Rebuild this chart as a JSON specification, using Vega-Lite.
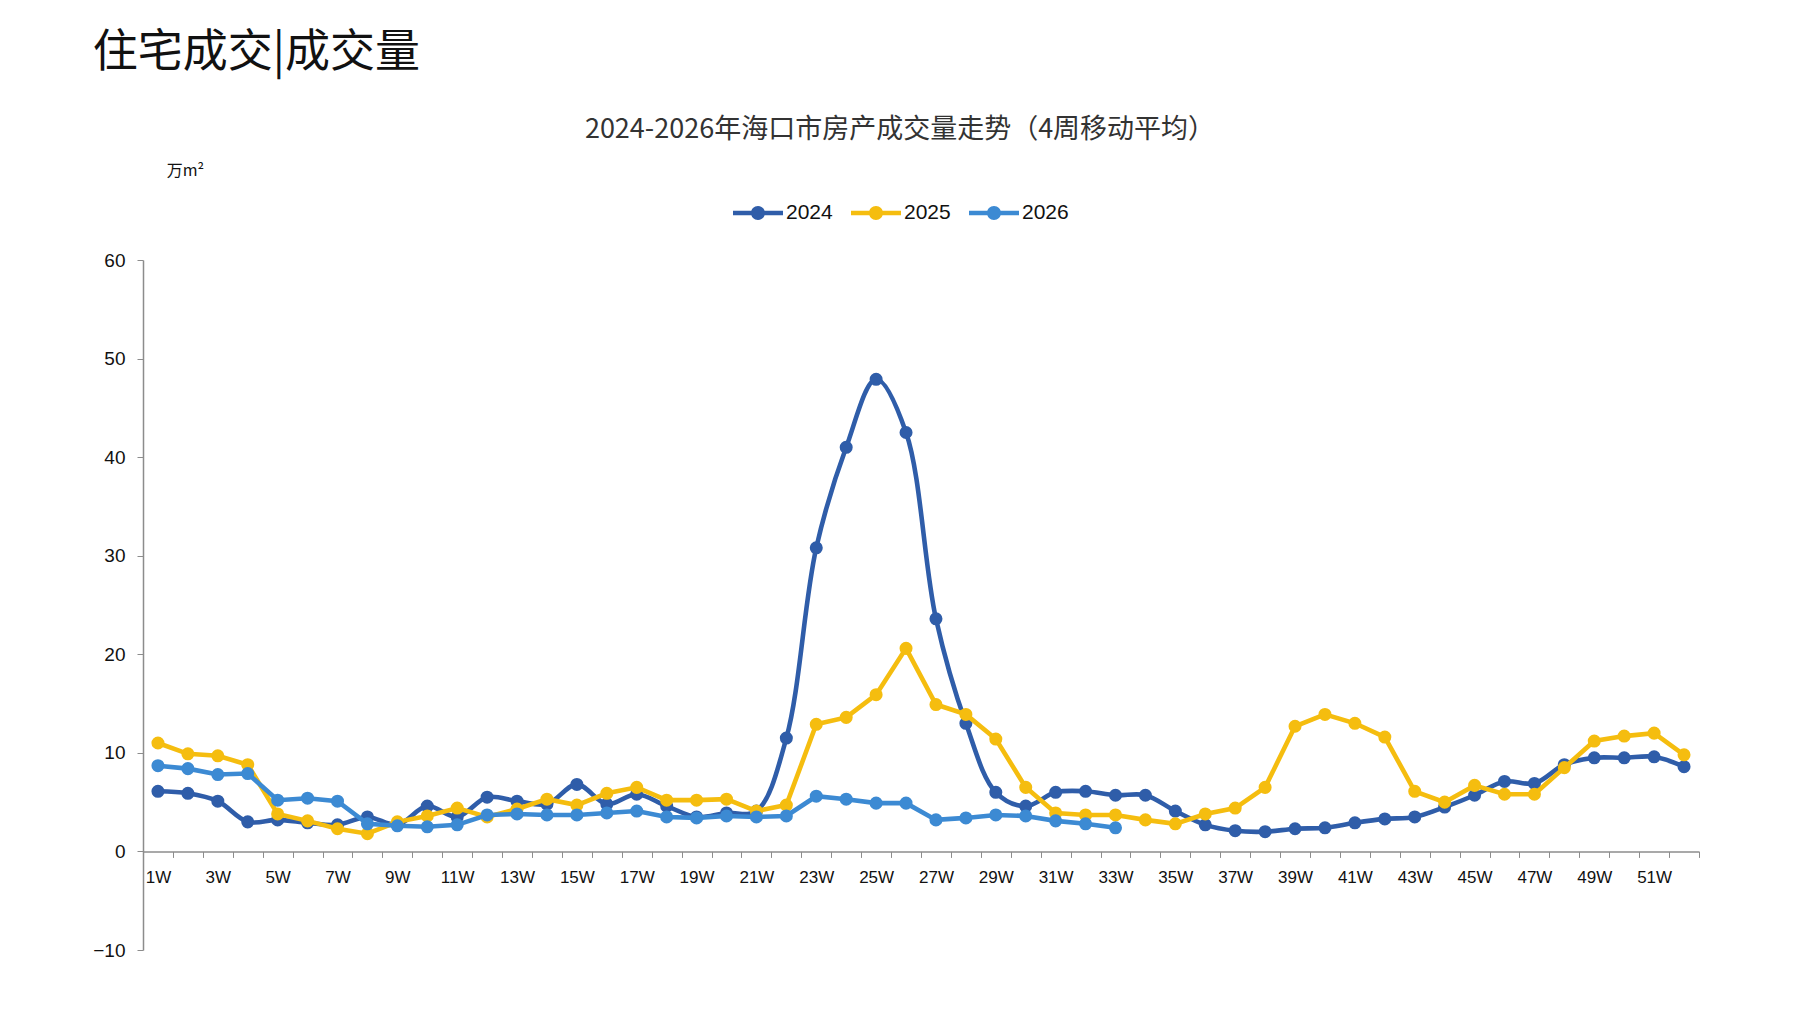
{
  "$schema": "https://vega.github.io/schema/vega-lite/v6.json",
  "background": "white",
  "padding": {"left": 92, "top": 31, "right": 10, "bottom": 10},
  "title": {
    "text": "住宅成交|成交量",
    "anchor": "start",
    "frame": "bounds",
    "font": "Noto Sans CJK SC",
    "fontSize": 45,
    "fontWeight": "normal",
    "color": "#111111",
    "offset": 40
  },
  "config": {
    "view": {"stroke": null},
    "concat": {"spacing": 0}
  },
  "vconcat": [
    {
      "width": 1556,
      "height": 690,
      "title": {
        "text": "2024-2026年海口市房产成交量走势（4周移动平均）",
        "anchor": "middle",
        "frame": "group",
        "font": "Noto Sans CJK SC",
        "fontSize": 27,
        "fontWeight": "normal",
        "color": "#333333",
        "dx": -21,
        "offset": 18
      },
      "data": {
        "values": [
          {"week": "1W", "year": "2024", "v": 6.1},
          {"week": "2W", "year": "2024", "v": 5.9},
          {"week": "3W", "year": "2024", "v": 5.1},
          {"week": "4W", "year": "2024", "v": 3.0},
          {"week": "5W", "year": "2024", "v": 3.2},
          {"week": "6W", "year": "2024", "v": 2.9},
          {"week": "7W", "year": "2024", "v": 2.7},
          {"week": "8W", "year": "2024", "v": 3.5},
          {"week": "9W", "year": "2024", "v": 2.7},
          {"week": "10W", "year": "2024", "v": 4.6},
          {"week": "11W", "year": "2024", "v": 3.5},
          {"week": "12W", "year": "2024", "v": 5.5},
          {"week": "13W", "year": "2024", "v": 5.1},
          {"week": "14W", "year": "2024", "v": 4.8},
          {"week": "15W", "year": "2024", "v": 6.8},
          {"week": "16W", "year": "2024", "v": 4.8},
          {"week": "17W", "year": "2024", "v": 5.8},
          {"week": "18W", "year": "2024", "v": 4.6},
          {"week": "19W", "year": "2024", "v": 3.5},
          {"week": "20W", "year": "2024", "v": 3.9},
          {"week": "21W", "year": "2024", "v": 4.1},
          {"week": "22W", "year": "2024", "v": 11.5},
          {"week": "23W", "year": "2024", "v": 30.8},
          {"week": "24W", "year": "2024", "v": 41.0},
          {"week": "25W", "year": "2024", "v": 47.9},
          {"week": "26W", "year": "2024", "v": 42.5},
          {"week": "27W", "year": "2024", "v": 23.6},
          {"week": "28W", "year": "2024", "v": 13.0},
          {"week": "29W", "year": "2024", "v": 6.0},
          {"week": "30W", "year": "2024", "v": 4.6},
          {"week": "31W", "year": "2024", "v": 6.0},
          {"week": "32W", "year": "2024", "v": 6.1},
          {"week": "33W", "year": "2024", "v": 5.7},
          {"week": "34W", "year": "2024", "v": 5.7},
          {"week": "35W", "year": "2024", "v": 4.1},
          {"week": "36W", "year": "2024", "v": 2.7},
          {"week": "37W", "year": "2024", "v": 2.1},
          {"week": "38W", "year": "2024", "v": 2.0},
          {"week": "39W", "year": "2024", "v": 2.3},
          {"week": "40W", "year": "2024", "v": 2.4},
          {"week": "41W", "year": "2024", "v": 2.9},
          {"week": "42W", "year": "2024", "v": 3.3},
          {"week": "43W", "year": "2024", "v": 3.5},
          {"week": "44W", "year": "2024", "v": 4.5},
          {"week": "45W", "year": "2024", "v": 5.7},
          {"week": "46W", "year": "2024", "v": 7.1},
          {"week": "47W", "year": "2024", "v": 6.9},
          {"week": "48W", "year": "2024", "v": 8.8},
          {"week": "49W", "year": "2024", "v": 9.5},
          {"week": "50W", "year": "2024", "v": 9.5},
          {"week": "51W", "year": "2024", "v": 9.6},
          {"week": "52W", "year": "2024", "v": 8.6},
          {"week": "1W", "year": "2025", "v": 11.0},
          {"week": "2W", "year": "2025", "v": 9.9},
          {"week": "3W", "year": "2025", "v": 9.7},
          {"week": "4W", "year": "2025", "v": 8.8},
          {"week": "5W", "year": "2025", "v": 3.8},
          {"week": "6W", "year": "2025", "v": 3.1},
          {"week": "7W", "year": "2025", "v": 2.3},
          {"week": "8W", "year": "2025", "v": 1.8},
          {"week": "9W", "year": "2025", "v": 3.0},
          {"week": "10W", "year": "2025", "v": 3.6},
          {"week": "11W", "year": "2025", "v": 4.4},
          {"week": "12W", "year": "2025", "v": 3.5},
          {"week": "13W", "year": "2025", "v": 4.3},
          {"week": "14W", "year": "2025", "v": 5.3},
          {"week": "15W", "year": "2025", "v": 4.7},
          {"week": "16W", "year": "2025", "v": 5.9},
          {"week": "17W", "year": "2025", "v": 6.5},
          {"week": "18W", "year": "2025", "v": 5.2},
          {"week": "19W", "year": "2025", "v": 5.2},
          {"week": "20W", "year": "2025", "v": 5.3},
          {"week": "21W", "year": "2025", "v": 4.1},
          {"week": "22W", "year": "2025", "v": 4.7},
          {"week": "23W", "year": "2025", "v": 12.9},
          {"week": "24W", "year": "2025", "v": 13.6},
          {"week": "25W", "year": "2025", "v": 15.9},
          {"week": "26W", "year": "2025", "v": 20.6},
          {"week": "27W", "year": "2025", "v": 14.9},
          {"week": "28W", "year": "2025", "v": 13.9},
          {"week": "29W", "year": "2025", "v": 11.4},
          {"week": "30W", "year": "2025", "v": 6.5},
          {"week": "31W", "year": "2025", "v": 3.9},
          {"week": "32W", "year": "2025", "v": 3.7},
          {"week": "33W", "year": "2025", "v": 3.7},
          {"week": "34W", "year": "2025", "v": 3.2},
          {"week": "35W", "year": "2025", "v": 2.8},
          {"week": "36W", "year": "2025", "v": 3.8},
          {"week": "37W", "year": "2025", "v": 4.4},
          {"week": "38W", "year": "2025", "v": 6.5},
          {"week": "39W", "year": "2025", "v": 12.7},
          {"week": "40W", "year": "2025", "v": 13.9},
          {"week": "41W", "year": "2025", "v": 13.0},
          {"week": "42W", "year": "2025", "v": 11.6},
          {"week": "43W", "year": "2025", "v": 6.1},
          {"week": "44W", "year": "2025", "v": 5.0},
          {"week": "45W", "year": "2025", "v": 6.7},
          {"week": "46W", "year": "2025", "v": 5.8},
          {"week": "47W", "year": "2025", "v": 5.8},
          {"week": "48W", "year": "2025", "v": 8.5},
          {"week": "49W", "year": "2025", "v": 11.2},
          {"week": "50W", "year": "2025", "v": 11.7},
          {"week": "51W", "year": "2025", "v": 12.0},
          {"week": "52W", "year": "2025", "v": 9.8},
          {"week": "1W", "year": "2026", "v": 8.7},
          {"week": "2W", "year": "2026", "v": 8.4},
          {"week": "3W", "year": "2026", "v": 7.8},
          {"week": "4W", "year": "2026", "v": 7.9},
          {"week": "5W", "year": "2026", "v": 5.2},
          {"week": "6W", "year": "2026", "v": 5.4},
          {"week": "7W", "year": "2026", "v": 5.1},
          {"week": "8W", "year": "2026", "v": 2.8},
          {"week": "9W", "year": "2026", "v": 2.6},
          {"week": "10W", "year": "2026", "v": 2.5},
          {"week": "11W", "year": "2026", "v": 2.7},
          {"week": "12W", "year": "2026", "v": 3.7},
          {"week": "13W", "year": "2026", "v": 3.8},
          {"week": "14W", "year": "2026", "v": 3.7},
          {"week": "15W", "year": "2026", "v": 3.7},
          {"week": "16W", "year": "2026", "v": 3.9},
          {"week": "17W", "year": "2026", "v": 4.1},
          {"week": "18W", "year": "2026", "v": 3.5},
          {"week": "19W", "year": "2026", "v": 3.4},
          {"week": "20W", "year": "2026", "v": 3.6},
          {"week": "21W", "year": "2026", "v": 3.5},
          {"week": "22W", "year": "2026", "v": 3.6},
          {"week": "23W", "year": "2026", "v": 5.6},
          {"week": "24W", "year": "2026", "v": 5.3},
          {"week": "25W", "year": "2026", "v": 4.9},
          {"week": "26W", "year": "2026", "v": 4.9},
          {"week": "27W", "year": "2026", "v": 3.2},
          {"week": "28W", "year": "2026", "v": 3.4},
          {"week": "29W", "year": "2026", "v": 3.7},
          {"week": "30W", "year": "2026", "v": 3.6},
          {"week": "31W", "year": "2026", "v": 3.1},
          {"week": "32W", "year": "2026", "v": 2.8},
          {"week": "33W", "year": "2026", "v": 2.4}
        ]
      },
      "encoding": {
        "x": {
          "field": "week",
          "type": "ordinal",
          "sort": null,
          "bandPosition": 0.5,
          "scale": {"type": "band", "paddingInner": 0, "paddingOuter": 0},
          "axis": {
            "title": null,
            "orient": "bottom",
            "offset": -98.57,
            "labelAngle": 0,
            "labelExpr": "parseInt(datum.value) % 2 == 1 ? datum.value : ''",
            "labelOverlap": false,
            "labelFont": "Liberation Sans Narrow, Liberation Sans",
            "labelFontSize": 17,
            "labelColor": "#111111",
            "labelPadding": 12,
            "tickBand": "extent",
            "tickSize": 6,
            "tickColor": "#8c8c8c",
            "domainColor": "#8c8c8c",
            "domainWidth": 1.5
          }
        },
        "y": {
          "field": "v",
          "type": "quantitative",
          "scale": {"domain": [-10, 60], "nice": false, "zero": false},
          "axis": {
            "values": [-10, 0, 10, 20, 30, 40, 50, 60],
            "grid": false,
            "title": "万m²",
            "titleAngle": 0,
            "titleX": 42,
            "titleY": -90,
            "titleAlign": "center",
            "titleBaseline": "middle",
            "titleFont": "Noto Sans CJK SC",
            "titleFontSize": 16,
            "titleFontWeight": "normal",
            "titleColor": "#111111",
            "labelFont": "Liberation Sans",
            "labelFontSize": 19,
            "labelColor": "#111111",
            "labelPadding": 12,
            "tickSize": 6,
            "tickColor": "#8c8c8c",
            "domainColor": "#8c8c8c",
            "domainWidth": 1.5
          }
        },
        "color": {
          "field": "year",
          "type": "nominal",
          "scale": {"domain": ["2024", "2025", "2026"], "range": ["#2F5DA9", "#F5BD0F", "#3C8AD3"]},
          "legend": {
            "title": null,
            "orient": "none",
            "direction": "horizontal",
            "legendX": 590,
            "legendY": -72,
            "symbolType": "M-1,-0.09 L1,-0.09 L1,0.09 L-1,0.09 Z M0.28,0 A0.28,0.28 0 1,1 -0.28,0 A0.28,0.28 0 1,1 0.28,0 Z",
            "symbolSize": 2500,
            "symbolStrokeWidth": 0,
            "labelFont": "Liberation Sans",
            "labelFontSize": 21,
            "labelColor": "#111111",
            "labelOffset": 3,
            "columnPadding": 18,
            "encode": {
              "symbols": {
                "update": {
                  "fill": {"scale": "color", "field": "value"},
                  "stroke": {"value": "transparent"}
                }
              }
            }
          }
        }
      },
      "layer": [
        {
          "transform": [{"filter": "datum.year == '2024'"}],
          "mark": {"type": "line", "interpolate": "catmull-rom", "strokeWidth": 4.6, "point": {"filled": true, "size": 170}}
        },
        {
          "transform": [{"filter": "datum.year == '2025'"}],
          "mark": {"type": "line", "strokeWidth": 4.6, "point": {"filled": true, "size": 170}}
        },
        {
          "transform": [{"filter": "datum.year == '2026'"}],
          "mark": {"type": "line", "strokeWidth": 4.6, "point": {"filled": true, "size": 170}}
        }
      ]
    }
  ]
}
